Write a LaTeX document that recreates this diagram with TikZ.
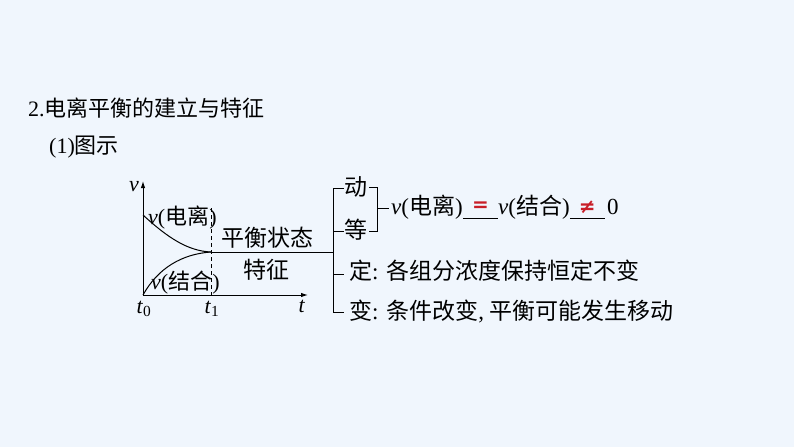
\documentclass[tikz,border=0pt]{standalone}
\usepackage{fontspec}
\setmainfont{Liberation Serif}
\newfontfamily\zhfont{Noto Sans CJK SC}
\newfontfamily\symfont{DejaVu Sans}
\newcommand\zh[1]{{\zhfont #1}}
\newcommand\vv{\textit{v}}
\usetikzlibrary{arrows.meta,calc}
\definecolor{bgcol}{RGB}{240,246,253}
\definecolor{ansred}{RGB}{200,30,40}
\begin{document}
\begin{tikzpicture}[x=1pt,y=-1pt,
  txt/.style={inner sep=0pt, font=\fontsize{23}{27}\selectfont},
  head/.style={inner sep=0pt, font=\fontsize{22}{26}\selectfont},
  small/.style={inner sep=0pt, font=\fontsize{22}{26}\selectfont},
  axis/.style={line width=1pt, -{Latex[length=7pt,width=4.5pt]}},
  curve/.style={line width=1pt},
  brk/.style={line width=1pt},
  ans/.style={inner sep=0pt, text=ansred, font=\symfont\bfseries\fontsize{20}{24}\selectfont}]
\fill[bgcol] (0,0) rectangle (794,447);
\useasboundingbox (0,0) rectangle (794,447);

% headings
\node[head,anchor=west] (title) at (28,108) {2.\zh{电离平衡的建立与特征}};
\node[head,anchor=west] (fig) at (49,147) {(1)\zh{图示}};

% axes
\coordinate (O) at (143,295);
\coordinate (vtop) at (143,181);
\coordinate (tend) at (308,295);
\draw[axis] (O) -- (vtop);
\draw[axis] (O) -- (tend);
\node[small] (vlab) at (134,187) {\vv};
\node[small] (t0) at (144,309) {\textit{t}\textsubscript{0}};
\node[small] (t1) at (212,309) {\textit{t}\textsubscript{1}};
\node[small] (tlab) at (302,306) {\textit{t}};

% curves
\coordinate (A) at (143,215);
\coordinate (E) at (211,252);
\coordinate (D0) at (211,208);
\coordinate (D1) at (211,295);
\draw[curve] (A) .. controls (168,238) and (188,251) .. (E);
\draw[curve] (O) .. controls (158,268) and (182,254) .. (E);
\draw[curve, dash pattern=on 4pt off 3pt] (D0) -- (D1);
\node[small,anchor=west] (ion) at (148,218) {\vv(\zh{电离})};
\node[small,anchor=west] (comb) at (151,283) {\vv(\zh{结合})};
\node[txt] (state) at (267,238) {\zh{平衡状态}};
\node[txt] (feat) at (266,270) {\zh{特征}};

% main bracket
\coordinate (B) at (333,252);
\draw[curve] (E) -- (B);
\coordinate (Btop) at (333,188);
\coordinate (Bbot) at (333,312);
\draw[brk] (344,188) -- (Btop) -- (Bbot) -- (344,312);
\draw[brk] (333,231) -- (344,231);
\draw[brk] (333,274) -- (344,274);

\node[txt] (dong) at (356,187) {\zh{动}};
\node[txt] (deng) at (356,230) {\zh{等}};
% inner bracket
\draw[brk] (369,187) -- (377,187) -- (377,231) -- (369,231);
\draw[brk] (377,208) -- (389,208);

% equation
\node[txt,anchor=west] (eq1) at (391,207) {\vv(\zh{电离})};
\coordinate (u1a) at (eq1.east |- 0,218);
\coordinate (u1b) at ($(u1a)+(35,0)$);
\draw[brk] (u1a) -- (u1b);
\node[ans] (eqsign) at ($(u1a)!0.5!(u1b)+(0,-11)$) {=};
\node[txt,anchor=west] (eq2) at (u1b |- 0,207) {\vv(\zh{结合})};
\coordinate (u2a) at (eq2.east |- 0,218);
\coordinate (u2b) at ($(u2a)+(35,0)$);
\draw[brk] (u2a) -- (u2b);
\node[ans] (neq) at ($(u2a)!0.5!(u2b)+(0,-11)$) {≠};
\node[txt,anchor=west] (zero) at ($(u2b |- 0,207)+(2,0)$) {0};

\node[txt,anchor=west] (ding) at (349,271) {\zh{定}: \zh{各组分浓度保持恒定不变}};
\node[txt,anchor=west] (bian) at (349,312) {\zh{变}: \zh{条件改变}, \zh{平衡可能发生移动}};
\end{tikzpicture}
\end{document}
